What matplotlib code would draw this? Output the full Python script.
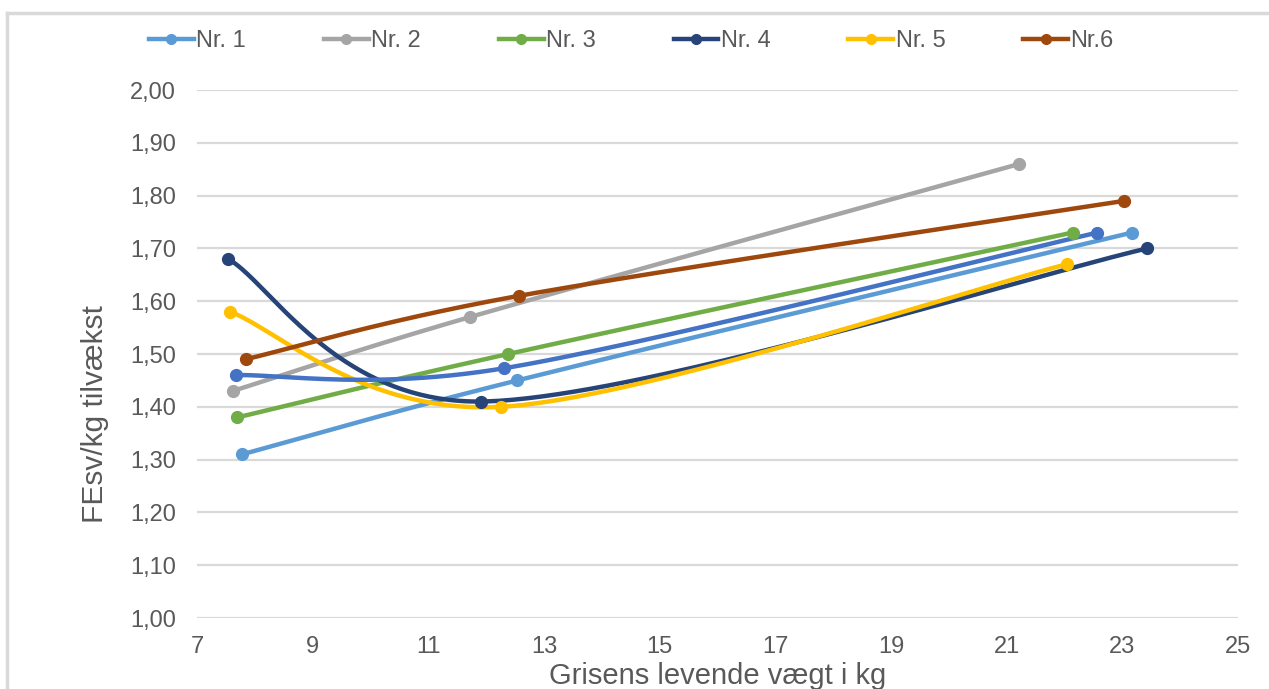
import numpy as np
import matplotlib.pyplot as plt
from matplotlib.lines import Line2D

plt.rcParams['font.family'] = ['Liberation Sans', 'DejaVu Sans']

# data
labels = ['Nr. 1', 'Nr. 2', 'Nr. 3', 'Nr. 4', 'Nr. 5', 'Nr.6']
x_nr1 = [7.78, 12.54, 23.17]
y_nr1 = [1.31, 1.45, 1.73]
x_nr2 = [7.62, 11.72, 21.22]
y_nr2 = [1.43, 1.57, 1.86]
x_nr3 = [7.70, 12.38, 22.14]
y_nr3 = [1.38, 1.50, 1.73]
x_nr4 = [7.54, 11.91, 23.43]
y_nr4 = [1.68, 1.41, 1.70]
x_nr5 = [7.57, 12.26, 22.04]
y_nr5 = [1.58, 1.40, 1.67]
x_nr6 = [7.84, 12.56, 23.03]
y_nr6 = [1.49, 1.61, 1.79]
# unlabelled series (no legend entry)
x_extra = [7.67, 12.31, 22.57]
y_extra = [1.46, 1.473, 1.73]

xticks = list(range(7, 26, 2))
yticks = [1.0, 1.1, 1.2, 1.3, 1.4, 1.5, 1.6, 1.7, 1.8, 1.9, 2.0]

colors = ['#5B9BD5', '#A5A5A5', '#70AD47', '#264478', '#FFC000', '#9E480E']
extra_color = '#4472C4'
text_color = '#595959'
grid_color = '#D9D9D9'

# axis scale in pixels per data unit (used only for the smoothing)
SX, SY = 1041 / 18.0, 528 / 1.0


def smooth(xs, ys, n=80):
    # Excel-style smoothed line: cubic Bezier, control arm capped at half the segment
    p = np.column_stack([np.asarray(xs) * SX, np.asarray(ys) * SY]).astype(float)
    out = [p[:1]]
    t = np.linspace(0, 1, n)[1:, None]
    for i in range(len(p) - 1):
        p0 = p[i - 1] if i > 0 else p[i]
        p1, p2 = p[i], p[i + 1]
        p3 = p[i + 2] if i + 2 < len(p) else p[i + 1]
        d12 = np.linalg.norm(p2 - p1)
        a1 = (p2 - p0) / 6
        a2 = (p3 - p1) / 6
        if np.linalg.norm(a1) > d12 / 2:
            a1 = a1 / np.linalg.norm(a1) * d12 / 2
        if np.linalg.norm(a2) > d12 / 2:
            a2 = a2 / np.linalg.norm(a2) * d12 / 2
        c1 = p1 + a1
        c2 = p2 - a2
        seg = ((1 - t) ** 3) * p1 + 3 * ((1 - t) ** 2) * t * c1 + 3 * (1 - t) * t ** 2 * c2 + t ** 3 * p2
        out.append(seg)
    out = np.vstack(out)
    return out[:, 0] / SX, out[:, 1] / SY


fig = plt.figure(figsize=(12.69, 6.89), dpi=100)
ax = fig.add_axes([197 / 1269, 1 - 618 / 689, 1041 / 1269, 528 / 689])

series = [(x_nr1, y_nr1), (x_nr2, y_nr2), (x_nr3, y_nr3),
          (x_nr4, y_nr4), (x_nr5, y_nr5), (x_nr6, y_nr6)]

handles = []
for (xs, ys), c, lab in zip(series, colors, labels):
    sx, sy = smooth(xs, ys)
    ax.plot(sx, sy, color=c, lw=3.2, solid_capstyle='round', zorder=3)
    ax.plot(xs, ys, 'o', color=c, ms=8.5, zorder=4)
    handles.append(Line2D([], [], color=c, lw=3.2, marker='o', ms=7, label=lab))

sx, sy = smooth(x_extra, y_extra)
ax.plot(sx, sy, color=extra_color, lw=3.2, zorder=3)
ax.plot(x_extra, y_extra, 'o', color=extra_color, ms=8.5, zorder=4)

ax.set_xlim(7, 25)
ax.set_ylim(1.0, 2.0)
ax.set_xticks(xticks)
ax.set_yticks(yticks)
ax.set_yticklabels(['{:.2f}'.format(v).replace('.', ',') for v in yticks])
ax.tick_params(length=0, labelsize=17, colors=text_color)
ax.tick_params(axis='y', pad=15)
ax.tick_params(axis='x', pad=13)
ax.yaxis.grid(True, color=grid_color, lw=1.6)
ax.set_axisbelow(True)
for s in ax.spines.values():
    s.set_visible(False)

ax.set_xlabel('Grisens levende vægt i kg', fontsize=21, color=text_color)
ax.xaxis.set_label_coords(0.5, -0.083)
fig.text(95 / 1269, 1 - 414 / 689, 'FEsv/kg tilvækst', rotation=90, fontsize=21.5,
         color=text_color, ha='center', va='center')

fig.legend(handles=handles, loc='center', bbox_to_anchor=(0.4975, 1 - 41 / 689),
           ncol=6, frameon=False, fontsize=17, handlelength=1.9,
           handletextpad=0.1, columnspacing=3.3, labelcolor=text_color)

# chart frame (top and left edge of the chart area)
fig.add_artist(Line2D([7 / 1269, 1], [1 - 13 / 689, 1 - 13 / 689],
                      color=grid_color, lw=2.5, transform=fig.transFigure))
fig.add_artist(Line2D([7 / 1269, 7 / 1269], [0, 1 - 13 / 689],
                      color=grid_color, lw=2.5, transform=fig.transFigure))

fig.savefig('out.png', dpi=100)
